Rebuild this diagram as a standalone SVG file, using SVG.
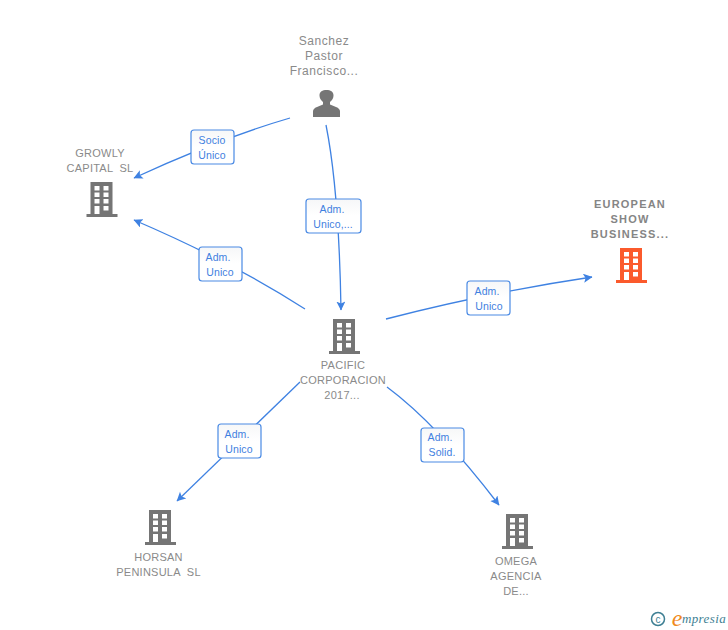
<svg xmlns="http://www.w3.org/2000/svg" width="728" height="630" viewBox="0 0 728 630">
<style>
text{font-family:"Liberation Sans",Arial,sans-serif;text-anchor:middle}
.n{font-size:11px;fill:#8a8a8a;letter-spacing:.25px}
.p{font-size:12px;fill:#8a8a8a;letter-spacing:.55px}
.b{font-size:11px;fill:#858585;font-weight:bold;letter-spacing:1.2px}
.l{font-size:10.500px;fill:#3f80e0;letter-spacing:.1px}
.c{fill:none;stroke:#3f82e2;stroke-width:1.3}
.t{fill:url(#lg);stroke:#4a8ae4;stroke-width:1.2}
.g{fill:#757575}
.o{fill:#fb5a2c}
</style>
<defs>
<linearGradient id="lg" x1="0" y1="0" x2="0" y2="1"><stop offset="0" stop-color="#f6f7f8"/><stop offset=".5" stop-color="#ffffff"/></linearGradient>
<marker id="a" markerUnits="userSpaceOnUse" markerWidth="12" markerHeight="12" refX="8.500" refY="4.500" orient="auto"><path d="M0 0L9 4.500L0 9L2 4.500Z" fill="#3f82e2"/></marker>
<path id="bld" fill-rule="evenodd" d="M4 0H26V32H31V35H0V32H4ZM8 4V8.500H13V4ZM17 4V8.500H22V4ZM8 10.500V15H13V10.500ZM17 10.500V15H22V10.500ZM8 17V21.500H13V17ZM17 17V21.500H22V17ZM8 24V32H13V24ZM17 24V28.500H22V24Z"/>
</defs>
<g id="connectors">
<path class="c" marker-end="url(#a)" d="M290 118Q218 139 134 178"/>
<path class="c" marker-end="url(#a)" d="M326 125Q339 190 341 310"/>
<path class="c" marker-end="url(#a)" d="M305 309Q232 262 134 220"/>
<path class="c" marker-end="url(#a)" d="M386 319Q491 292 592 277"/>
<path class="c" marker-end="url(#a)" d="M300 382L177 501"/>
<path class="c" marker-end="url(#a)" d="M387 387Q437 424 499 505"/>
</g>
<g id="label-socio"><rect class="t" x="191" y="130" width="43" height="34" rx="3"/><text class="l" x="212" y="143.500">Socio</text><text class="l" x="212" y="158.500">Único</text></g>
<g id="label-adm-unico-top"><rect class="t" x="306" y="199" width="55" height="34" rx="3"/><text class="l" x="332" y="212.500">Adm.</text><text class="l" x="333" y="227.500">Unico,...</text></g>
<g id="label-adm-growly"><rect class="t" x="199" y="247" width="43" height="34" rx="3"/><text class="l" x="218" y="260.500">Adm.</text><text class="l" x="220" y="275.500">Unico</text></g>
<g id="label-adm-european"><rect class="t" x="467" y="281" width="43" height="34" rx="3"/><text class="l" x="487" y="294.500">Adm.</text><text class="l" x="489" y="309.500">Unico</text></g>
<g id="label-adm-horsan"><rect class="t" x="218" y="424" width="43" height="34" rx="3"/><text class="l" x="237" y="437.500">Adm.</text><text class="l" x="239" y="452.500">Unico</text></g>
<g id="label-adm-omega"><rect class="t" x="421" y="428" width="43" height="34" rx="3"/><text class="l" x="440" y="440.500">Adm.</text><text class="l" x="442" y="455.500">Solid.</text></g>
<g id="node-sanchez">
<text class="p" x="324" y="45">Sanchez</text><text class="p" x="324" y="60">Pastor</text><text class="p" x="324" y="75">Francisco...</text>
<path class="g" d="M313 117V111.500Q313 108.500 317 107L323 104.500V102Q319.500 99 319.500 95.500C319.500 91.500 322.500 90 326.500 90C330.500 90 333.500 91.500 333.500 95.500Q333.500 99 330 102V104.500L336 107Q340 108.500 340 111.500V117Z"/>
</g>
<g id="node-growly">
<text class="n" x="100" y="157">GROWLY</text><text class="n" x="100" y="172" xml:space="preserve">CAPITAL  SL</text>
<use href="#bld" class="g" x="86.500" y="182"/>
</g>
<g id="node-european">
<text class="b" x="630" y="208">EUROPEAN</text><text class="b" x="630" y="223">SHOW</text><text class="b" x="630" y="238">BUSINESS...</text>
<use href="#bld" class="o" x="616" y="248"/>
</g>
<g id="node-pacific">
<use href="#bld" class="g" x="329" y="319"/>
<text class="n" x="343" y="369">PACIFIC</text><text class="n" x="343" y="384">CORPORACION</text><text class="n" x="342" y="399">2017...</text>
</g>
<g id="node-horsan">
<use href="#bld" class="g" x="145" y="510"/>
<text class="n" x="158.500" y="561">HORSAN</text><text class="n" x="158.500" y="576" xml:space="preserve">PENINSULA  SL</text>
</g>
<g id="node-omega">
<use href="#bld" class="g" x="502" y="514"/>
<text class="n" x="516" y="565">OMEGA</text><text class="n" x="516" y="580">AGENCIA</text><text class="n" x="516" y="595">DE...</text>
</g>
<g id="logo">
<circle cx="658" cy="619" r="6.500" fill="none" stroke="#3e7f93" stroke-width="1.500"/>
<text x="658" y="622.500" style="font-size:10px;fill:#3e7f93">c</text>
<text x="677" y="626" style="font-size:24px;fill:#f08a1d;font-family:'Liberation Serif',serif;font-style:italic">e</text>
<text x="704" y="623" style="font-size:13px;fill:#3e7f93;font-family:'Liberation Serif',serif;font-style:italic;letter-spacing:.4px">mpresia</text>
</g>
</svg>
